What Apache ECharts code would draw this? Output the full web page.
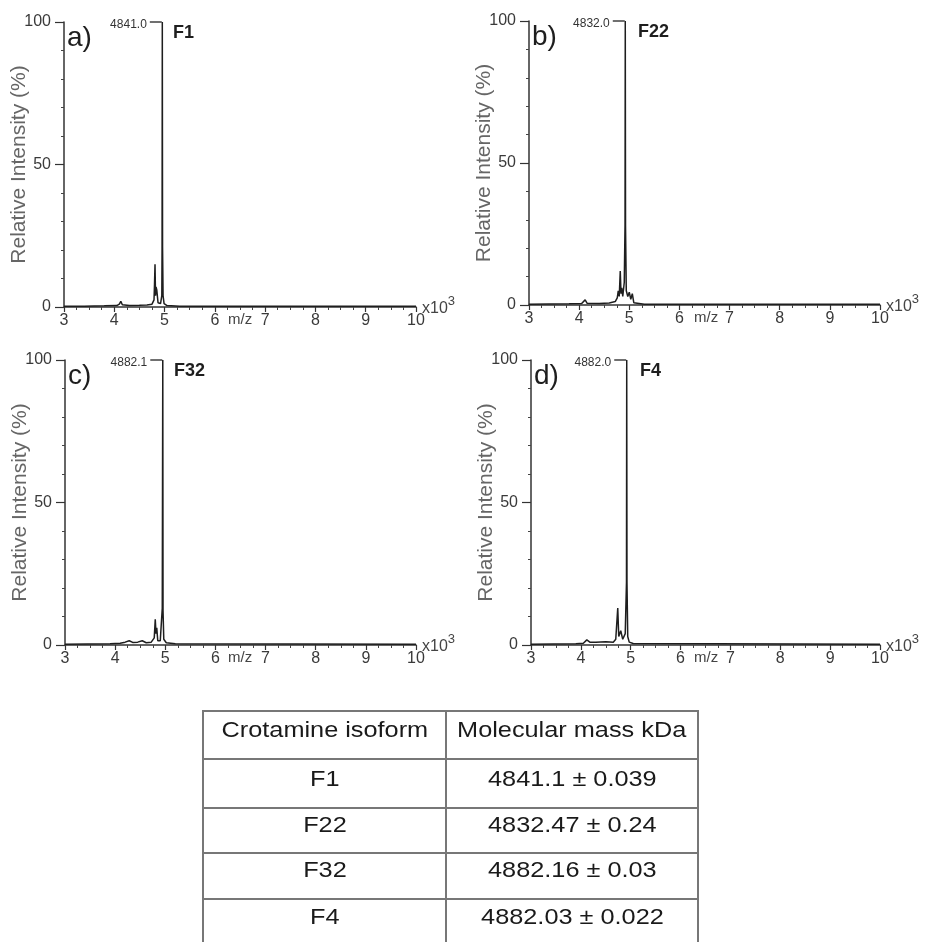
<!DOCTYPE html>
<html>
<head>
<meta charset="utf-8">
<script src="https://cdn.jsdelivr.net/npm/echarts@6/dist/echarts.min.js"></script>
<style>
  html, body { margin: 0; padding: 0; background: #fff; }
  #main { position: absolute; left: 0; top: 0; width: 934px; height: 942px; }
  #tbl {
    position: absolute; left: 202px; top: 710px;
    border-collapse: collapse; table-layout: fixed;
    font-family: "Liberation Sans", Arial, sans-serif;
    font-size: 22px; line-height: 26px; color: #1a1a1a;
  }
  #tbl td {
    border: 2px solid #777; text-align: center;
    padding: 0; vertical-align: top; overflow: visible; white-space: nowrap;
  }
  #tbl td span { display: inline-block; transform: scaleX(1.15); }
  #tbl tr td:first-child { width: 241px; }
  #tbl tr td:last-child { width: 250px; }
</style>
</head>
<body>
<div id="main"></div>
<table id="tbl"></table>
<script>
// spectra: [m/z (x10^3), relative intensity %]
const spectrumF1 = [[3.0,0.3],[3.4,0.3],[3.8,0.4],[4.05,0.5],[4.1,1.0],[4.13,2.0],[4.16,0.8],[4.3,0.5],[4.5,0.6],[4.65,0.7],[4.75,1.0],[4.79,2.5],[4.80,8],[4.81,15],[4.82,4],[4.83,7],[4.845,6],[4.87,1.5],[4.92,1.2],[4.945,4],[4.95,20],[4.955,100],[4.96,21],[4.97,4],[4.99,1.2],[5.05,0.5],[5.3,0.3],[6,0.3],[10,0.3]];
const spectrumF22 = [[3.0,0.3],[3.8,0.4],[4.05,0.5],[4.12,1.8],[4.16,0.6],[4.4,0.5],[4.6,0.7],[4.72,1.2],[4.76,2.5],[4.78,5],[4.8,3],[4.82,12],[4.835,4],[4.85,6],[4.87,3],[4.9,8],[4.915,28],[4.92,100],[4.925,28],[4.94,5],[4.97,3],[5.0,4.5],[5.03,2],[5.06,4],[5.09,0.8],[5.3,0.3],[10,0.3]];
const spectrumF32 = [[3.0,0.3],[3.9,0.4],[4.1,0.6],[4.2,1.0],[4.28,1.5],[4.35,0.9],[4.45,1.0],[4.54,1.5],[4.62,0.8],[4.72,1.0],[4.78,2.5],[4.8,9],[4.815,4],[4.83,6],[4.85,1.5],[4.9,1.5],[4.94,13],[4.95,100],[4.955,12],[4.97,2],[5.02,0.8],[5.2,0.4],[10,0.3]];
const spectrumF4 = [[3.0,0.3],[3.9,0.4],[4.05,0.6],[4.12,1.8],[4.18,1.0],[4.3,1.0],[4.5,1.1],[4.65,1.0],[4.7,2],[4.74,13],[4.76,3],[4.8,5],[4.84,2],[4.89,4],[4.915,22],[4.92,100],[4.925,22],[4.94,3],[4.97,1],[5.05,0.5],[10,0.3]];

const panelLetters = ['a)', 'b)', 'c)', 'd)'];
const isoforms = ['F1', 'F22', 'F32', 'F4'];
const peakLabels = ['4841.0', '4832.0', '4882.1', '4882.0'];
const masses = ['4841.1 ± 0.039', '4832.47 ± 0.24', '4882.16 ± 0.03', '4882.03 ± 0.022'];
const tableHeader = ['Crotamine isoform', 'Molecular mass kDa'];

const spectra = [spectrumF1, spectrumF22, spectrumF32, spectrumF4];
const grids = [
  { left: 64, right: 518, top: 22, bottom: 635 },
  { left: 529, right: 54, top: 21, bottom: 637 },
  { left: 65, right: 518, top: 360, bottom: 297 },
  { left: 531, right: 54, top: 360, bottom: 297 }
];

const FONT = '"Liberation Sans", Arial, sans-serif';
const INK = '#1e1e1e';

let xAxis = [], yAxis = [], series = [], title = [];
grids.forEach(function (g, i) {
  xAxis.push({
    gridIndex: i, type: 'value', min: 3, max: 10, interval: 1,
    name: '{a|x10}{b|3}', nameLocation: 'end', nameGap: 6, nameMoveOverlap: false,
    nameTextStyle: {
      rich: {
        a: { fontSize: 16, color: '#444', fontFamily: FONT, padding: [3, 0, 0, 0] },
        b: { fontSize: 13, color: '#444', fontFamily: FONT, padding: [0, 0, 12, 0] }
      }
    },
    axisLine: { lineStyle: { color: '#333', width: 1.5 } },
    axisTick: { length: 5, lineStyle: { color: '#333', width: 1.2 } },
    minorTick: { show: true, splitNumber: 4, length: 3, lineStyle: { color: '#444' } },
    splitLine: { show: false },
    axisLabel: { color: '#3a3a3a', fontSize: 16, fontFamily: FONT, margin: 6 }
  });
  yAxis.push({
    gridIndex: i, type: 'value', min: 0, max: 100, interval: 50,
    name: 'Relative Intensity (%)', nameLocation: 'middle', nameGap: 34, nameMoveOverlap: false,
    nameTextStyle: { fontSize: 21, color: '#666', fontFamily: FONT },
    axisLine: { show: true, lineStyle: { color: '#333', width: 1.5 } },
    axisTick: { show: true, length: 9, lineStyle: { color: '#333', width: 1.2 } },
    minorTick: { show: true, splitNumber: 5, length: 3, lineStyle: { color: '#444' } },
    splitLine: { show: false },
    axisLabel: { color: '#3a3a3a', fontSize: 16, fontFamily: FONT, margin: 13 }
  });

  const data = spectra[i];
  const peak = data.reduce(function (m, p) { return p[1] > m[1] ? p : m; });
  series.push({
    type: 'line', xAxisIndex: i, yAxisIndex: i,
    data: data, showSymbol: false, silent: true,
    lineStyle: { color: INK, width: 1.5 },
    markPoint: {
      symbol: 'circle', symbolSize: 1,
      itemStyle: { color: 'rgba(0,0,0,0)' },
      data: [{ coord: peak }],
      label: {
        show: true, position: 'left', distance: 0,
        formatter: '{v|' + peakLabels[i] + '}{d|}',
        rich: {
          v: { fontSize: 12, color: '#333', fontFamily: FONT, padding: [5, 3, 0, 0] },
          d: { width: 12, height: 1.4, backgroundColor: '#333' }
        }
      }
    }
  });

  // title boxes carry a 5px padding
  title.push({
    text: panelLetters[i], left: g.left - 2, top: g.top - 3,
    textStyle: { fontSize: 28, fontWeight: 'normal', color: INK, fontFamily: FONT }
  });
  title.push({
    text: isoforms[i], left: g.left + 104, top: g.top - 3,
    textStyle: { fontSize: 18, fontWeight: 'bold', color: INK, fontFamily: FONT }
  });
});

// m/z label sits mid-axis, just under the line
grids.forEach(function (g, i) {
  title.push({
    text: 'm/z', left: (i % 2 === 0 ? 223 : 689), top: 942 - g.bottom,
    textStyle: { fontSize: 15, fontWeight: 'normal', color: '#444', fontFamily: FONT }
  });
});

const chart = echarts.init(document.getElementById('main'));
chart.setOption({
  animation: false,
  backgroundColor: '#fff',
  title: title,
  grid: grids,
  xAxis: xAxis,
  yAxis: yAxis,
  series: series
});

// table
const tbl = document.getElementById('tbl');
const rows = [tableHeader].concat(isoforms.map(function (f, i) { return [f, masses[i]]; }));
const rowHeights = [48, 49, 45, 46, 60];
const textOffsets = [5, 6, 3, 3, 4];
rows.forEach(function (r, i) {
  const tr = document.createElement('tr');
  tr.style.height = rowHeights[i] + 'px';
  r.forEach(function (c) {
    const td = document.createElement('td');
    const sp = document.createElement('span');
    sp.textContent = c;
    td.appendChild(sp);
    td.style.paddingTop = textOffsets[i] + 'px';
    tr.appendChild(td);
  });
  tbl.appendChild(tr);
});
</script>
</body>
</html>
